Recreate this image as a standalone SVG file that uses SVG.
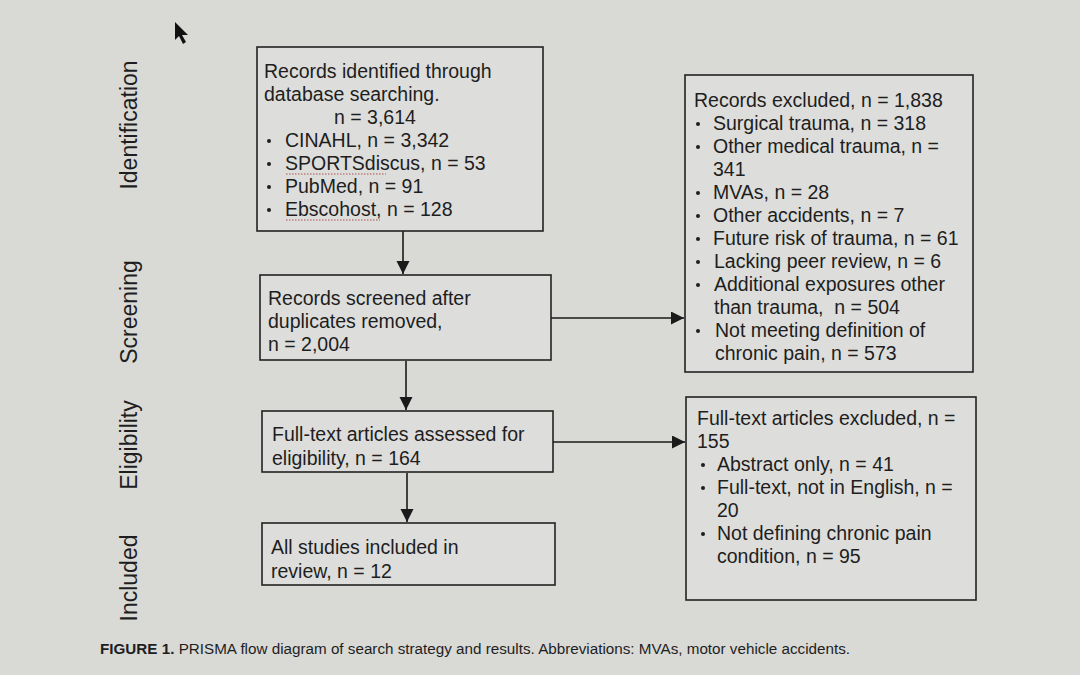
<svg xmlns="http://www.w3.org/2000/svg" width="1080" height="675" viewBox="0 0 1080 675">
<defs>
<marker id="ah" markerWidth="14" markerHeight="14" refX="13" refY="6.5" orient="auto" markerUnits="userSpaceOnUse" viewBox="0 0 14 14">
<path d="M0,0 L13,6.5 L0,13 z" fill="#1a1a1a"/>
</marker>
<style>
.box{fill:#dddddb;stroke:#222;stroke-width:1.6}
.t{font-family:"Liberation Sans",Arial,sans-serif;font-size:19.5px;fill:#1e1e1e}
.side{font-family:"Liberation Sans",Arial,sans-serif;font-size:23px;fill:#1e1e1e}
.cap{font-family:"Liberation Sans",Arial,sans-serif;font-size:14px;fill:#1e1e1e}
.ln{stroke:#1a1a1a;stroke-width:1.6;fill:none}
.sp{stroke:#b05050;stroke-width:1.2;stroke-dasharray:1.5 1.5}
.b{fill:#1e1e1e}
</style>
</defs>
<rect width="1080" height="675" fill="#d9d9d6"/>
<path d="M175,22 L175,40 L179,36 L183,44 L186,42 L182,35 L188,35 z" fill="#111"/>
<g id="labels">
<text class="side" transform="translate(137,125) rotate(-90)" text-anchor="middle">Identification</text>
<text class="side" transform="translate(137,312) rotate(-90)" text-anchor="middle">Screening</text>
<text class="side" transform="translate(137,445) rotate(-90)" text-anchor="middle">Eligibility</text>
<text class="side" transform="translate(137,578) rotate(-90)" text-anchor="middle">Included</text>
</g>
<g id="connectors">
<line class="ln" x1="403" y1="231" x2="403" y2="274" marker-end="url(#ah)"/>
<line class="ln" x1="406" y1="361" x2="406" y2="410" marker-end="url(#ah)"/>
<line class="ln" x1="407" y1="473" x2="407" y2="522" marker-end="url(#ah)"/>
<line class="ln" x1="551" y1="318" x2="684" y2="318" marker-end="url(#ah)"/>
<line class="ln" x1="553" y1="442" x2="685" y2="442" marker-end="url(#ah)"/>
</g>
<g id="n1">
<rect class="box" x="257" y="47" width="286" height="184"/>
<text class="t" x="264" y="78">Records identified through</text>
<text class="t" x="264" y="101">database searching.</text>
<text class="t" x="334" y="124">n = 3,614</text>
<circle class="b" cx="269" cy="141" r="2"/><text class="t" x="285" y="147">CINAHL, n = 3,342</text>
<circle class="b" cx="269" cy="164" r="2"/><text class="t" x="285" y="170">SPORTSdiscus, n = 53</text>
<circle class="b" cx="269" cy="187" r="2"/><text class="t" x="285" y="193">PubMed, n = 91</text>
<circle class="b" cx="269" cy="210" r="2"/><text class="t" x="285" y="216">Ebscohost, n = 128</text>
<line class="sp" x1="286" y1="174" x2="386" y2="174"/>
<line class="sp" x1="286" y1="220" x2="380" y2="220"/>
</g>
<g id="n2">
<rect class="box" x="260" y="275" width="291" height="85"/>
<text class="t" x="268" y="305">Records screened after</text>
<text class="t" x="268" y="328">duplicates removed,</text>
<text class="t" x="268" y="351">n = 2,004</text>
</g>
<g id="n3">
<rect class="box" x="262" y="411" width="291" height="61"/>
<text class="t" x="272" y="441">Full-text articles assessed for</text>
<text class="t" x="272" y="465">eligibility, n = 164</text>
</g>
<g id="n4">
<rect class="box" x="262" y="523" width="293" height="62"/>
<text class="t" x="271" y="554">All studies included in</text>
<text class="t" x="271" y="578">review, n = 12</text>
</g>
<g id="r1">
<rect class="box" x="685" y="75" width="288" height="297"/>
<text class="t" x="694" y="107">Records excluded, n = 1,838</text>
<circle class="b" cx="698" cy="124" r="2"/><text class="t" x="713" y="130">Surgical trauma, n = 318</text>
<circle class="b" cx="698" cy="147" r="2"/><text class="t" x="713" y="153">Other medical trauma, n =</text>
<text class="t" x="713" y="176">341</text>
<circle class="b" cx="698" cy="193" r="2"/><text class="t" x="713" y="199">MVAs, n = 28</text>
<circle class="b" cx="698" cy="216" r="2"/><text class="t" x="713" y="222">Other accidents, n = 7</text>
<circle class="b" cx="698" cy="239" r="2"/><text class="t" x="713" y="245">Future risk of trauma, n = 61</text>
<circle class="b" cx="698" cy="262" r="2"/><text class="t" x="714" y="268">Lacking peer review, n = 6</text>
<circle class="b" cx="698" cy="285" r="2"/><text class="t" x="714" y="291">Additional exposures other</text>
<text class="t" x="714" y="314">than trauma,&#160; n = 504</text>
<circle class="b" cx="698" cy="331" r="2"/><text class="t" x="715" y="337">Not meeting definition of</text>
<text class="t" x="715" y="360">chronic pain, n = 573</text>
</g>
<g id="r2">
<rect class="box" x="686" y="397" width="290" height="203"/>
<text class="t" x="697" y="425">Full-text articles excluded, n =</text>
<text class="t" x="697" y="448">155</text>
<circle class="b" cx="703" cy="465" r="2"/><text class="t" x="717" y="471">Abstract only, n = 41</text>
<circle class="b" cx="703" cy="488" r="2"/><text class="t" x="717" y="494">Full-text, not in English, n =</text>
<text class="t" x="717" y="517">20</text>
<circle class="b" cx="703" cy="534" r="2"/><text class="t" x="717" y="540">Not defining chronic pain</text>
<text class="t" x="717" y="563">condition, n = 95</text>
</g>
<text class="cap" x="100" y="654" textLength="750" lengthAdjust="spacingAndGlyphs"><tspan font-weight="bold">FIGURE 1.</tspan> PRISMA flow diagram of search strategy and results. Abbreviations: MVAs, motor vehicle accidents.</text>
</svg>
